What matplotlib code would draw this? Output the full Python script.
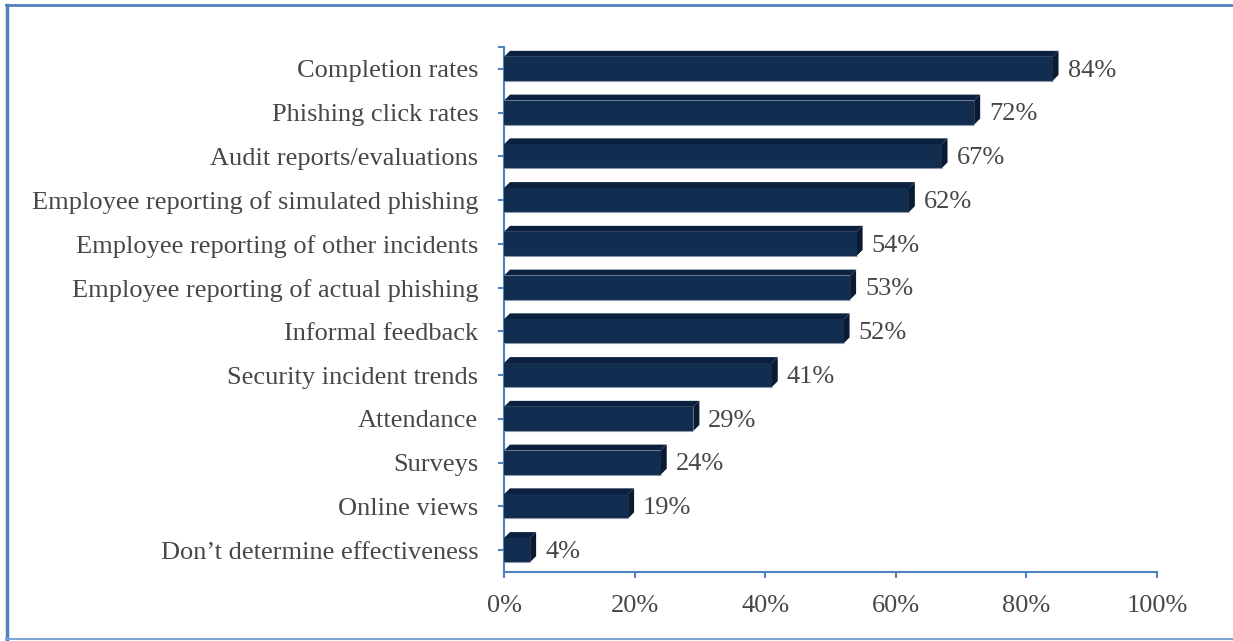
import matplotlib
matplotlib.use('Agg')
import matplotlib.pyplot as plt
from matplotlib.patches import Polygon
from matplotlib.lines import Line2D

# 데이터
categories = [
    "Completion rates",
    "Phishing click rates",
    "Audit reports/evaluations",
    "Employee reporting of simulated phishing",
    "Employee reporting of other incidents",
    "Employee reporting of actual phishing",
    "Informal feedback",
    "Security incident trends",
    "Attendance",
    "Surveys",
    "Online views",
    "Don\u2019t determine effectiveness",
]
values = [84, 72, 67, 62, 54, 53, 52, 41, 29, 24, 19, 4]
xticks = [0, 20, 40, 60, 80, 100]

W, H = 1233, 641
plt.rcParams['font.family'] = ['Liberation Serif', 'DejaVu Serif']

fig = plt.figure(figsize=(W / 100, H / 100), dpi=100)
ax_l, ax_r, ax_t, ax_b = 504, 1157, 47, 572
ax = fig.add_axes([ax_l / W, 1 - ax_b / H, (ax_r - ax_l) / W, (ax_b - ax_t) / H])

n = len(categories)
ax.set_xlim(0, 100)
ax.set_ylim(n - 0.5, -0.5)

# 3D 깊이 (픽셀 -> 데이터 단위)
px_x = 100 / (ax_r - ax_l)
px_y = n / (ax_b - ax_t)
dx, dy = 6 * px_x, 6 * px_y
bh = 0.55

front_c = '#112d50'
top_c = '#0c2140'
side_c = '#0a1a33'
text_c = '#474747'
axis_c = '#4f81bd'
fs = 19

for i, v in enumerate(values):
    y0, y1 = i + bh / 2, i - bh / 2
    ax.add_patch(Polygon([(0, y1), (dx, y1 - dy), (v + dx, y1 - dy), (v, y1)],
                         closed=True, facecolor=top_c, edgecolor='none', zorder=3))
    ax.add_patch(Polygon([(v, y0), (v, y1), (v + dx, y1 - dy), (v + dx, y0 - dy)],
                         closed=True, facecolor=side_c, edgecolor='none', zorder=3))
    ax.barh(i, v, height=bh, color=front_c, edgecolor='none', zorder=4)
    ax.plot([0, v], [y0, y0], color='#8d99aa', lw=0.8, zorder=5, solid_capstyle='butt')
    ax.text(v + dx + 9 * px_x, i + 0.04, f"{v}%", va='center', ha='left',
            fontsize=fs, color=text_c)

ax.set_yticks(range(n))
ax.set_yticklabels(categories, fontsize=fs, color=text_c)
ax.set_yticks([-0.5], minor=True)
ax.set_xticks(xticks)
ax.set_xticklabels([f"{t}%" for t in xticks], fontsize=fs, color=text_c)

for s in ['top', 'right']:
    ax.spines[s].set_visible(False)
for s in ['left', 'bottom']:
    ax.spines[s].set_color(axis_c)
    ax.spines[s].set_linewidth(1.5)
ax.tick_params(axis='both', which='both', color=axis_c, width=1.5, length=4.5)
ax.tick_params(axis='y', pad=14)
ax.tick_params(axis='x', pad=12)

# 바깥 테두리
fig.add_artist(Line2D([6 / W, 1], [1 - 5 / H, 1 - 5 / H], color=axis_c, lw=2, transform=fig.transFigure))
fig.add_artist(Line2D([7 / W, 7 / W], [1 - 5 / H, 0], color=axis_c, lw=2.5, transform=fig.transFigure))
fig.add_artist(Line2D([6 / W, 1], [1 - 639 / H, 1 - 639 / H], color='#7ea6d8', lw=1.5, transform=fig.transFigure))

fig.savefig('out.png', dpi=100)
